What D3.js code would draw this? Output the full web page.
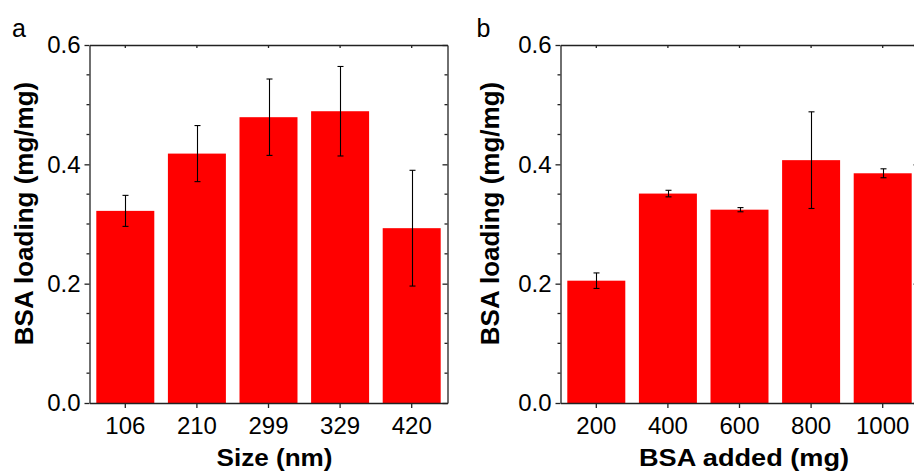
<!DOCTYPE html>
<html>
<head>
<meta charset="utf-8">
<script src="https://cdn.jsdelivr.net/npm/d3@7"></script>
<style>
  html, body { margin: 0; padding: 0; background: #fff; }
  svg { display: block; font-family: "Liberation Sans", Arial, sans-serif; }
</style>
</head>
<body>
<svg id="chart" width="914" height="474"></svg>
<script>
// ---- Data ----
const sizeCategories = ["106", "210", "299", "329", "420"];
const sizeLoading = [0.322, 0.418, 0.479, 0.489, 0.293];
const sizeError = [0.026, 0.047, 0.064, 0.075, 0.097];

const bsaCategories = ["200", "400", "600", "800", "1000"];
const bsaLoading = [0.205, 0.351, 0.324, 0.407, 0.385];
const bsaError = [0.013, 0.0055, 0.0035, 0.081, 0.0075];

const yTicks = [0.0, 0.2, 0.4, 0.6];
const yMinorTicks = [0.05, 0.1, 0.15, 0.25, 0.3, 0.35, 0.45, 0.5, 0.55];

const panels = [
  { label: "a", cats: sizeCategories, vals: sizeLoading, errs: sizeError,
    xTitle: "Size (nm)", left: 89.5, right: 447.5,
    xTitleX: 274.5, xTitleLen: 116, xTitleSize: 23, yTitleX: 33, labelX: 12 },
  { label: "b", cats: bsaCategories, vals: bsaLoading, errs: bsaError,
    xTitle: "BSA added (mg)", left: 560.5, right: 918.5,
    xTitleX: 744, xTitleLen: 210, xTitleSize: 24, yTitleX: 499, labelX: 476.5 }
];

const svg = d3.select("#chart");
const plotTop = 45, plotBottom = 403;
const axisColor = "#222";
const fontFam = "'Liberation Sans', Arial, sans-serif";

panels.forEach(p => {
  const g = svg.append("g");
  const x = d3.scaleBand().domain(p.cats).range([p.left, p.right])
    .paddingInner(0.19).paddingOuter(0.095);
  const y = d3.scaleLinear().domain([0, 0.6]).range([plotBottom, plotTop]);
  const data = p.cats.map((c, i) => ({ c, v: p.vals[i], e: p.errs[i] }));

  // bars
  g.selectAll("rect.bar").data(data).enter().append("rect")
    .attr("class", "bar")
    .attr("x", d => x(d.c))
    .attr("width", x.bandwidth())
    .attr("y", d => y(d.v))
    .attr("height", d => y(0) - y(d.v))
    .attr("fill", "#ff0000");

  // left axis (major + minor ticks outward)
  const leftAxis = g.append("g").attr("class", "ax").attr("transform", `translate(${p.left},0)`)
    .call(d3.axisLeft(y).tickValues(yTicks).tickFormat(d3.format(".1f"))
      .tickSizeInner(5).tickSizeOuter(0).tickPadding(4));
  leftAxis.append("g").selectAll("line").data(yMinorTicks).enter().append("line")
    .attr("class", "minor")
    .attr("x1", -3).attr("x2", 0).attr("y1", d => y(d)).attr("y2", d => y(d));
  leftAxis.selectAll("text").attr("font-size", 24).attr("fill", "#000")
    .attr("font-family", fontFam);

  // right axis (ticks inward)
  const rightAxis = g.append("g").attr("class", "ax").attr("transform", `translate(${p.right},0)`)
    .call(d3.axisRight(y).tickValues(yTicks).tickFormat("")
      .tickSizeInner(-5).tickSizeOuter(0));
  rightAxis.append("g").selectAll("line").data(yMinorTicks).enter().append("line")
    .attr("class", "minor")
    .attr("x1", -3).attr("x2", 0).attr("y1", d => y(d)).attr("y2", d => y(d));

  // bottom axis
  const bottomAxis = g.append("g").attr("class", "ax").attr("transform", `translate(0,${plotBottom})`)
    .call(d3.axisBottom(x).tickSizeInner(5).tickSizeOuter(0).tickPadding(9));
  bottomAxis.selectAll("text").attr("font-size", 24).attr("fill", "#000")
    .attr("font-family", fontFam);

  // top axis (ticks inward)
  g.append("g").attr("class", "ax").attr("transform", `translate(0,${plotTop})`)
    .call(d3.axisTop(x).tickSizeInner(-3).tickSizeOuter(0).tickFormat(""));

  g.selectAll(".ax .domain, .ax .tick line, .ax line.minor")
    .attr("stroke", axisColor).attr("stroke-width", 1.3);

  // error bars
  const eb = g.selectAll("g.err").data(data).enter().append("g").attr("class", "err");
  const cx = d => Math.round(x(d.c) + x.bandwidth() / 2) + 0.5;
  eb.append("line").attr("x1", cx).attr("x2", cx)
    .attr("y1", d => y(d.v + d.e)).attr("y2", d => y(d.v - d.e))
    .attr("stroke", "#000").attr("stroke-width", 1.1);
  [1, -1].forEach(s => {
    eb.append("line")
      .attr("x1", d => cx(d) - 3).attr("x2", d => cx(d) + 3)
      .attr("y1", d => y(d.v + s * d.e)).attr("y2", d => y(d.v + s * d.e))
      .attr("stroke", "#000").attr("stroke-width", 1.1);
  });

  // axis titles
  g.append("text")
    .attr("x", p.xTitleX)
    .attr("y", 466)
    .attr("text-anchor", "middle")
    .attr("font-size", p.xTitleSize).attr("font-weight", "bold")
    .attr("textLength", p.xTitleLen).attr("lengthAdjust", "spacingAndGlyphs")
    .text(p.xTitle);

  g.append("text")
    .attr("transform", `translate(${p.yTitleX},213.5) rotate(-90)`)
    .attr("text-anchor", "middle")
    .attr("font-size", 26).attr("font-weight", "bold")
    .text("BSA loading (mg/mg)");

  // panel label
  g.append("text")
    .attr("x", p.labelX).attr("y", 37)
    .attr("font-size", 25)
    .text(p.label);
});
</script>
</body>
</html>
